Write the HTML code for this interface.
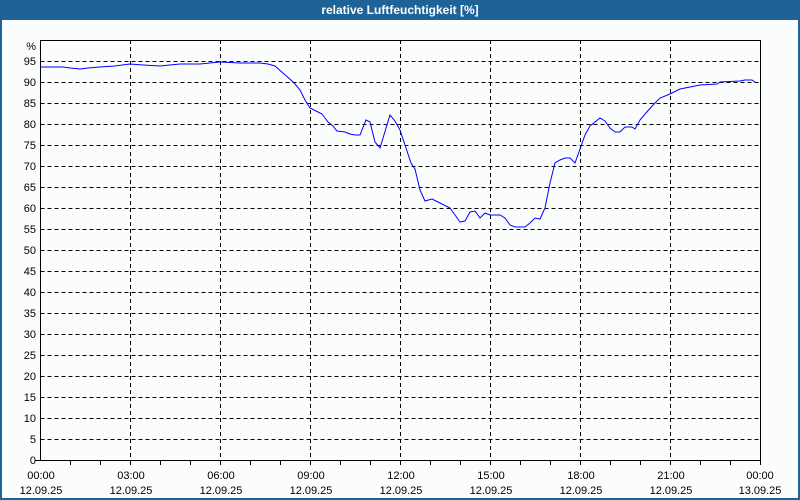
<!DOCTYPE html>
<html><head><style>
body{margin:0;background:#fff}
svg{display:block}
text{font-family:"Liberation Sans","DejaVu Sans",sans-serif;font-size:11px;fill:#000}
</style></head><body>
<svg width="800" height="500" xmlns="http://www.w3.org/2000/svg">
<rect x="0" y="0" width="800" height="500" fill="#1d6398"/>
<rect x="2" y="20" width="796" height="478" fill="#fbfdfd"/>
<text x="400" y="14" text-anchor="middle" style="fill:#fff;font-weight:bold;font-size:12px">relative Luftfeuchtigkeit [%]</text>
<g stroke="#000" stroke-width="1" stroke-dasharray="4,3" shape-rendering="crispEdges">
<path d="M40.5 61.5H760M40.5 82.5H760M40.5 103.5H760M40.5 124.5H760M40.5 145.5H760M40.5 166.5H760M40.5 187.5H760M40.5 208.5H760M40.5 229.5H760M40.5 250.5H760M40.5 271.5H760M40.5 292.5H760M40.5 313.5H760M40.5 334.5H760M40.5 355.5H760M40.5 376.5H760M40.5 397.5H760M40.5 418.5H760M40.5 439.5H760"/>
<path d="M130.5 40V460M220.5 40V460M310.5 40V460M400.5 40V460M490.5 40V460M580.5 40V460M670.5 40V460"/>
</g>
<g stroke="#000" fill="none" shape-rendering="crispEdges">
<rect x="40.5" y="40.5" width="720" height="420"/>
<path d="M70.5 460v5M100.5 460v5M130.5 460v5M160.5 460v5M190.5 460v5M220.5 460v5M250.5 460v5M280.5 460v5M310.5 460v5M340.5 460v5M370.5 460v5M400.5 460v5M430.5 460v5M460.5 460v5M490.5 460v5M520.5 460v5M550.5 460v5M580.5 460v5M610.5 460v5M640.5 460v5M670.5 460v5M700.5 460v5M730.5 460v5M760.5 460v5M35 460.5h5"/>
</g>
<polyline fill="none" stroke="#0000ff" stroke-width="1" points="40,67 63,67 70,68 80,69 88,68 100,67 115,66 130,64 143,65 160,66 170,65 180,64 200,64 220,62 240,63 260,63 268,64 275,66 292,81 295,84 300,90 305,100 310,108 320,113 322,114 328,122 333,126 337,131 345,132 350,134 355,135 360,135 366,120 370,122 375,142 380,148 390,115 395,121 400,130 405,145 411,163 415,169 420,190 425,201 432,199 440,203 450,208 455,215 460,222 465,221 470,212 475,211 480,218 485,213 490,215 500,215 505,218 510,225 515,227 525,227 530,223 535,218 540,219 545,208 550,183 555,163 560,160 565,158 570,158 575,163 585,135 590,126 600,118 605,121 610,128 615,132 620,132 625,127 632,127 635,129 640,120 645,114 655,103 660,98 670,94 680,89 690,87 700,85 717,84 720,82 740,81 745,80 752,80 755,82"/>
<g text-anchor="end">
<text x="36" y="50">%</text>
<text x="36" y="65">95</text><text x="36" y="86">90</text><text x="36" y="107">85</text><text x="36" y="128">80</text><text x="36" y="149">75</text><text x="36" y="170">70</text><text x="36" y="191">65</text><text x="36" y="212">60</text><text x="36" y="233">55</text><text x="36" y="254">50</text><text x="36" y="275">45</text><text x="36" y="296">40</text><text x="36" y="317">35</text><text x="36" y="338">30</text><text x="36" y="359">25</text><text x="36" y="380">20</text><text x="36" y="401">15</text><text x="36" y="422">10</text><text x="36" y="443">5</text><text x="36" y="464">0</text>
</g>
<g text-anchor="middle">
<text x="41" y="479">00:00</text><text x="41" y="494">12.09.25</text>
<text x="131" y="479">03:00</text><text x="131" y="494">12.09.25</text>
<text x="221" y="479">06:00</text><text x="221" y="494">12.09.25</text>
<text x="311" y="479">09:00</text><text x="311" y="494">12.09.25</text>
<text x="401" y="479">12:00</text><text x="401" y="494">12.09.25</text>
<text x="491" y="479">15:00</text><text x="491" y="494">12.09.25</text>
<text x="581" y="479">18:00</text><text x="581" y="494">12.09.25</text>
<text x="671" y="479">21:00</text><text x="671" y="494">12.09.25</text>
<text x="760" y="479">00:00</text><text x="760" y="494">13.09.25</text>
</g>
</svg>
</body></html>
